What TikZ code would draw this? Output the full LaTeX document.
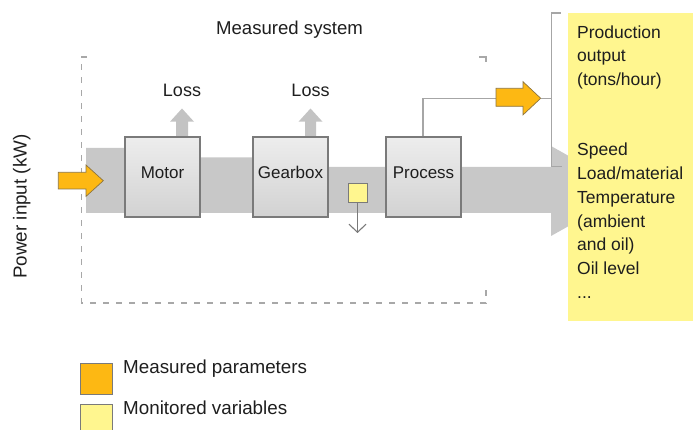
\documentclass[tikz,border=0pt]{standalone}
\usepackage{fontspec}
\setmainfont{Liberation Sans}
\usetikzlibrary{arrows.meta}
\definecolor{band}{HTML}{C8C8C8}
\definecolor{lossc}{HTML}{C3C3C3}
\definecolor{orng}{HTML}{FDB813}
\definecolor{orngline}{HTML}{8C7440}
\definecolor{ylw}{HTML}{FFF68F}
\definecolor{boxline}{HTML}{7A7A7A}
\definecolor{brk}{HTML}{A6A6A6}
\definecolor{dsh}{HTML}{A8A8A8}
\definecolor{txt}{HTML}{1E1E1E}
\definecolor{boxtop}{HTML}{EDEDED}
\definecolor{boxbot}{HTML}{D2D2D2}
\tikzset{
  stepbox/.style={draw=boxline, line width=1.1pt, top color=boxtop, bottom color=boxbot,
    minimum width=75pt, minimum height=80pt, inner sep=0pt, text height=12pt, text depth=8pt,
    font=\fontsize{17}{20}\selectfont, text=txt},
  lbl/.style={font=\fontsize{18}{22}\selectfont, text=txt, inner sep=0pt, anchor=base},
  ytxt/.style={font=\fontsize{17.5}{22}\selectfont, text=txt, inner sep=0pt, anchor=base west},
  orangearrow/.style={fill=orng, draw=orngline, line width=0.7pt, line join=miter},
  lossarrow/.style={fill=lossc, draw=none},
  brkline/.style={draw=brk, line width=1.4pt},
  dashline/.style={draw=dsh, line width=1.3pt, dash pattern=on 6pt off 7pt},
}
\begin{document}
\begin{tikzpicture}[x=1pt,y=-1pt]
\useasboundingbox (0,0) rectangle (699,430);

% main gray flow band
\fill[band] (86,148) -- (162,148) -- (162,157.5) -- (290,157.5) -- (290,167) -- (551,167)
  -- (551,146) -- (631,191) -- (551,236) -- (551,213) -- (86,213) -- cycle;

% dashed system boundary
\draw[dashline] (87,57) -- (81.5,57) -- (81.5,303) -- (486,303) -- (486,288);
\draw[draw=dsh, line width=1.3pt] (479,57) -- (486,57) -- (486,62);

% loss arrows
\fill[lossarrow] (176,137) -- (176,121.7) -- (170,121.7) -- (182,108.5) -- (194,121.7) -- (188,121.7) -- (188,137) -- cycle;
\fill[lossarrow] (305,137) -- (305,121.7) -- (298.5,121.7) -- (310.5,108.5) -- (322.5,121.7) -- (316,121.7) -- (316,137) -- cycle;

% boxes
\node[stepbox] (motor) at (162.5,177) {Motor};
\node[stepbox] (gearbox) at (290.5,177) {Gearbox};
\node[stepbox] (process) at (423.5,177) {Process};

% loss labels
\node[lbl] (loss1) at (182,96.7) {Loss};
\node[lbl] (loss2) at (310.5,96.7) {Loss};

% title
\node[lbl, font=\fontsize{18.6}{22}\selectfont] (title) at (289.5,35) {Measured system};

% input arrow
\draw[orangearrow] (58.3,172.3) -- (86,172.3) -- (86,165) -- (103.3,180.7) -- (86,196.4) -- (86,189) -- (58.3,189) -- cycle;

% monitored variable square with arrow
\node[draw=boxline, fill=ylw, line width=0.9pt, minimum size=19pt, inner sep=0pt] (mon) at (357.5,192.5) {};
\coordinate (monend) at (357.5,233);
\draw[draw=boxline, line width=1.1pt, -{Straight Barb[length=8pt,width=17pt,line width=1.1pt]}] (mon.south) -- (monend);

% output: process to production output
\coordinate (outtail) at (496,98.3);
\coordinate (outtip) at (540.7,98.3);
\draw[brkline] (process.north -| 423,0) |- (outtail);
\draw[orangearrow] (496,88.3) -- (523,88.3) -- (523,81.7) -- (540.7,98.3) -- (523,114.9) -- (523,106.3) -- (496,106.3) -- cycle;
\coordinate (brkmid) at (551.7,98.3);
\draw[brkline] (outtip) -- (brkmid);
\draw[brkline] (560.5,13) -- (551.7,13) -- (551.7,166.7) -- (562,166.7);

% yellow monitored variables box
\fill[ylw] (568,13) rectangle (693,321);
\node[ytxt] (y1) at (577,38.3) {Production};
\node[ytxt] (y2) at (577,61.8) {output};
\node[ytxt] (y3) at (577,85.3) {(tons/hour)};
\node[ytxt] (v1) at (577,155.7) {Speed};
\node[ytxt] (v2) at (577,179.5) {Load/material};
\node[ytxt] (v3) at (577,203.3) {Temperature};
\node[ytxt] (v4) at (577,227.1) {(ambient};
\node[ytxt] (v5) at (577,250.9) {and oil)};
\node[ytxt] (v6) at (577,274.7) {Oil level};
\node[ytxt] (v7) at (577,298.5) {...};

% power input label
\node[font=\fontsize{18.8}{22}\selectfont, text=txt, inner sep=0pt, anchor=base, rotate=90] (pin) at (26.7,206.5) {Power input (kW)};

% legend
\node[draw=boxline, fill=orng, line width=0.9pt, minimum width=32pt, minimum height=31pt, inner sep=0pt, anchor=north west] (leg1) at (80,363) {};
\node[draw=boxline, fill=ylw, line width=0.9pt, minimum width=32pt, minimum height=33pt, inner sep=0pt, anchor=north west] (leg2) at (80,404) {};
\node[ytxt, font=\fontsize{18.8}{22}\selectfont] (legt1) at (123,373.3) {Measured parameters};
\node[ytxt, font=\fontsize{18.8}{22}\selectfont] (legt2) at (123,414) {Monitored variables};
\end{tikzpicture}
\end{document}
